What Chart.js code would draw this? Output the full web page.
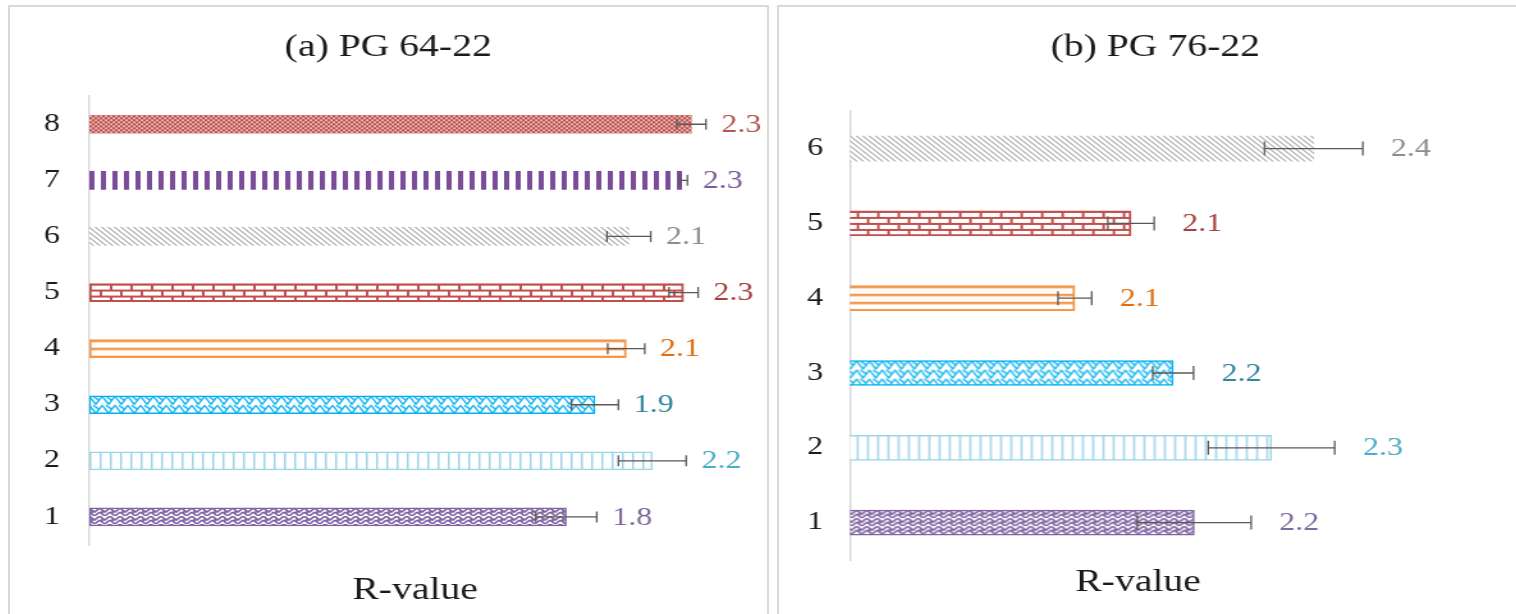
<!DOCTYPE html>
<html lang="en">
  <head>
    <meta charset="UTF-8" />
    <title>R-value | PG 64-22 and PG 76-22</title>
    <script src="https://cdn.jsdelivr.net/npm/chart.js"></script>
    <style>
      body {
        margin: 0;
        width: 1516px;
        height: 614px;
        overflow: hidden;
        background: #fff;
        position: relative;
      }
      .panel {
        position: absolute;
        top: 5px;
        height: 700px;
        border: 2px solid #dadada;
        overflow: hidden;
        background: #fff;
      }
      #panelA { left: 8px; width: 757px; }
      #panelB { left: 777px; width: 800px; }
      /* the original picture is stretched sideways, so the canvases are too */
      .stretch {
        position: absolute;
        left: 0;
        top: 0;
        transform-origin: 0 0;
        transform: scaleX(1.28);
      }
    </style>
  </head>
  <body>
    <div class="panel" id="panelA">
      <div class="stretch"><canvas id="chartA" width="591" height="607"></canvas></div>
    </div>
    <div class="panel" id="panelB">
      <div class="stretch"><canvas id="chartB" width="588" height="607"></canvas></div>
    </div>

    <script>
      // (a) PG 64-22
      const catsA = ["1", "2", "3", "4", "5", "6", "7", "8"];
      const valuesA = [1.83, 2.16, 1.94, 2.06, 2.28, 2.07, 2.28, 2.31];
      const errorsA = [0.117, 0.13, 0.09, 0.071, 0.056, 0.084, 0.015, 0.056];

      // (b) PG 76-22
      const catsB = ["1", "2", "3", "4", "5", "6"];
      const valuesB = [2.23, 2.34, 2.2, 2.06, 2.14, 2.4];
      const errorsB = [0.081, 0.09, 0.029, 0.024, 0.033, 0.07];

      const barColors = ["#8064A2", "#9DD5E8", "#00B0F0", "#F79646", "#C0504D", "#808080", "#7A4C9A", "#C0504D"];
      const labelColors = ["#7F6A9F", "#4BACC6", "#31859C", "#E46C0A", "#A5403D", "#8C8C8C", "#7E5A9B", "#B3574F"];
      const borderWidths = [1.5, 1.5, 1.5, 2, 2, 0, 0, 0];

      const serif = '"Liberation Serif", "Times New Roman", serif';

      function makePatterns(ctx) {
        function pat(w, h, draw) {
          const c = document.createElement("canvas");
          c.width = w;
          c.height = h;
          const g = c.getContext("2d");
          g.fillStyle = "#fff";
          g.fillRect(0, 0, w, h);
          draw(g);
          return ctx.createPattern(c, "repeat");
        }
        return [
          // 1 weave
          pat(8, 8, (g) => {
            g.strokeStyle = barColors[0];
            g.lineWidth = 1.6;
            g.beginPath();
            g.moveTo(0, 0); g.lineTo(4, 4); g.lineTo(8, 0);
            g.moveTo(0, 4); g.lineTo(4, 8); g.lineTo(8, 4);
            g.moveTo(2, 2); g.lineTo(2, 6);
            g.stroke();
          }),
          // 2 vertical lines
          pat(8, 4, (g) => {
            g.fillStyle = barColors[1];
            g.fillRect(0, 0, 1.5, 4);
          }),
          // 3 wave
          pat(10, 9, (g) => {
            g.strokeStyle = barColors[2];
            g.lineWidth = 1.4;
            g.beginPath();
            g.moveTo(0, 0.5); g.lineTo(5, 8.5); g.lineTo(10, 0.5);
            g.moveTo(3, 0.5); g.quadraticCurveTo(6, 3, 8, 5);
            g.stroke();
          }),
          // 4 wide horizontal
          pat(4, 8, (g) => {
            g.fillStyle = barColors[3];
            g.fillRect(0, 0, 4, 2.5);
          }),
          // 5 brick
          pat(16, 12, (g) => {
            g.fillStyle = barColors[4];
            g.fillRect(0, 0, 16, 2);
            g.fillRect(0, 6, 16, 2);
            g.fillRect(0, 0, 2, 6);
            g.fillRect(8, 6, 2, 6);
          }),
          // 6 downward diagonal
          pat(5, 5, (g) => {
            g.strokeStyle = barColors[5];
            g.lineWidth = 1;
            g.beginPath();
            g.moveTo(-1, -1); g.lineTo(6, 6);
            g.moveTo(-1, 4); g.lineTo(1, 6);
            g.moveTo(4, -1); g.lineTo(6, 1);
            g.stroke();
          }),
          // 7 wide vertical
          pat(9, 4, (g) => {
            g.fillStyle = barColors[6];
            g.fillRect(0, 0, 4, 4);
          }),
          // 8 small confetti
          pat(4, 4, (g) => {
            g.fillStyle = barColors[7];
            g.fillRect(0, 0, 4, 4);
            g.fillStyle = "#fbe9e6";
            g.fillRect(0.3, 0.3, 1.6, 1.6);
            g.fillRect(2.3, 2.3, 1.6, 1.6);
          }),
        ];
      }

      // start every pattern at the top-left corner of its own bar
      const alignPatterns = {
        id: "alignPatterns",
        beforeDatasetsDraw(chart) {
          const ds = chart.data.datasets[0];
          chart.getDatasetMeta(0).data.forEach((bar, i) => {
            const p = ds.backgroundColor[i];
            if (p && p.setTransform) {
              p.setTransform(new DOMMatrix([1, 0, 0, 1, bar.base, bar.y - bar.height / 2]));
            }
          });
        },
      };

      const errorBarsAndLabels = {
        id: "errorBarsAndLabels",
        afterDatasetsDraw(chart) {
          const { ctx } = chart;
          const x = chart.scales.x;
          const ds = chart.data.datasets[0];
          ctx.save();
          chart.getDatasetMeta(0).data.forEach((bar, i) => {
            const v = ds.data[i];
            const e = ds.errors[i];
            const x0 = x.getPixelForValue(v - e);
            const x1 = x.getPixelForValue(v + e);
            const h = ds.capSize / 2;
            ctx.strokeStyle = "#595959";
            ctx.lineWidth = 1.3;
            ctx.beginPath();
            ctx.moveTo(x0, bar.y); ctx.lineTo(x1, bar.y);
            ctx.moveTo(x0, bar.y - h); ctx.lineTo(x0, bar.y + h);
            ctx.moveTo(x1, bar.y - h); ctx.lineTo(x1, bar.y + h);
            ctx.stroke();

            ctx.fillStyle = labelColors[i];
            ctx.font = "25px " + serif;
            ctx.textAlign = "left";
            ctx.textBaseline = "middle";
            ctx.fillText(v.toFixed(1), x1 + ds.labelGap, bar.y + 1);
          });
          ctx.restore();
        },
      };

      function makeChart(id, cfg) {
        const canvas = document.getElementById(id);
        const patterns = makePatterns(canvas.getContext("2d"));
        const n = cfg.cats.length;

        return new Chart(canvas, {
          type: "bar",
          data: {
            labels: cfg.cats,
            datasets: [
              {
                data: cfg.values,
                errors: cfg.errors,
                capSize: cfg.capSize,
                labelGap: cfg.labelGap,
                backgroundColor: patterns.slice(0, n),
                borderColor: barColors.slice(0, n),
                borderWidth: borderWidths.slice(0, n),
                borderSkipped: false,
                barThickness: cfg.barThickness,
              },
            ],
          },
          options: {
            indexAxis: "y",
            responsive: false,
            animation: false,
            plugins: {
              legend: { display: false },
              tooltip: { enabled: false },
              title: {
                display: true,
                text: cfg.title,
                color: "#1a1a1a",
                font: { family: serif, size: 31, weight: "normal" },
                padding: { top: 22, bottom: cfg.titleGap },
              },
            },
            scales: {
              x: {
                min: cfg.min,
                max: cfg.max,
                beginAtZero: false,
                grid: { display: false, drawTicks: false },
                border: { display: false },
                ticks: { display: false },
                title: {
                  display: true,
                  text: "R-value",
                  color: "#1a1a1a",
                  font: { family: serif, size: 31, weight: "normal" },
                  padding: { top: 0, bottom: cfg.xTitlePad },
                },
                afterFit: (s) => { s.height = cfg.xHeight; },
              },
              y: {
                reverse: true,
                grid: { display: false, drawTicks: false },
                border: { display: true, color: "#d9d9d9", width: 1.5 },
                ticks: {
                  color: "#1a1a1a",
                  font: { family: serif, size: 25 },
                  padding: cfg.tickPad,
                },
                afterFit: (s) => { s.width = cfg.yWidth; },
              },
              // empty strip on the right, where the value labels sit
              spare: {
                type: "category",
                axis: "y",
                position: "right",
                grid: { display: false, drawTicks: false },
                border: { display: false },
                ticks: { display: false },
                afterFit: (s) => { s.width = cfg.padRight; },
              },
            },
          },
          plugins: [alignPatterns, errorBarsAndLabels],
        });
      }

      document.addEventListener("DOMContentLoaded", () => {
        makeChart("chartA", {
          title: "(a) PG 64-22",
          cats: catsA,
          values: valuesA,
          errors: errorsA,
          min: 0,
          max: 2.5,
          padRight: 20,
          yWidth: 62,
          tickPad: 23,
          titleGap: 30,
          xHeight: 69,
          xTitlePad: 5,
          barThickness: 18,
          capSize: 11,
          labelGap: 12,
        });
        makeChart("chartB", {
          title: "(b) PG 76-22",
          cats: catsB,
          values: valuesB,
          errors: errorsB,
          min: 1.74,
          max: 2.56,
          padRight: 82.5,
          yWidth: 55.5,
          tickPad: 21,
          titleGap: 45,
          xHeight: 54,
          xTitlePad: 13,
          barThickness: 25,
          capSize: 14,
          labelGap: 22,
        });
      });
    </script>
  </body>
</html>
